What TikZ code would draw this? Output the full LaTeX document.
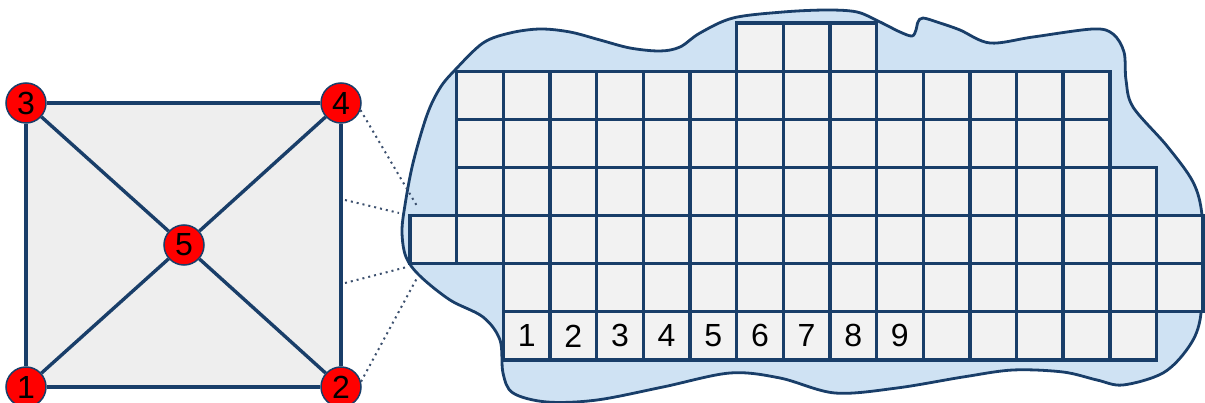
\documentclass[tikz,border=0pt]{standalone}
\usepackage{fontspec}
\setmainfont{Liberation Sans}
\usetikzlibrary{positioning,backgrounds}
\definecolor{navy}{RGB}{25,62,105}
\definecolor{sqgray}{RGB}{238,238,238}
\definecolor{cellgray}{RGB}{242,242,242}
\definecolor{blobblue}{RGB}{207,226,243}
\definecolor{dotgray}{RGB}{60,80,110}

\begin{document}
\begin{tikzpicture}[
    x=1pt, y=-1pt,
    font=\fontsize{32}{32}\selectfont,
    vert/.style={circle, draw=navy, line width=1.5pt, fill=red,
                 minimum size=40pt, inner sep=0pt},
    edge/.style={draw=navy, line width=3.4pt},
    cell/.style={rectangle, draw=navy, fill=cellgray, line width=3.4pt,
                 minimum width=46.65pt, minimum height=48.1pt,
                 inner sep=0pt, anchor=north west},
    digit/.style={inner sep=0pt},
    blob/.style={draw=navy, fill=blobblue, line width=2.8pt},
    zoomline/.style={draw=dotgray, line width=2pt,
                     dash pattern=on 2pt off 4pt},
  ]
    \useasboundingbox (0,0) rectangle (1205,403);

    %% ── Mesh: square with its five vertices ─────────────────
    \node[vert] (n1) at (26,387)  {1};
    \node[vert] (n2) at (341,387) {2};
    \node[vert] (n3) at (26,103)  {3};
    \node[vert] (n4) at (341,103) {4};
    \node[vert] (n5) at (184,245) {5};

    \begin{scope}[on background layer]
      \fill[sqgray] (n1.center) rectangle (n4.center);
      \draw[edge] (n1) -- (n2);
      \draw[edge] (n2) -- (n4);
      \draw[edge] (n4) -- (n3);
      \draw[edge] (n3) -- (n1);
      \draw[edge] (n1) -- (n5);
      \draw[edge] (n2) -- (n5);
      \draw[edge] (n3) -- (n5);
      \draw[edge] (n4) -- (n5);
    \end{scope}

    %% ── Blob round the grid ─────────────────────────────────
    \draw[blob] plot[smooth cycle, tension=0.55] coordinates {
      (402,232) (405,205) (413,163) (427,115) (440,88) (455,70)
      (483,43) (510,33) (540,29) (570,32) (600,40) (630,48) (660,51)
      (680,47) (700,33) (733,18) (783,12) (827,10) (857,12) (878,21)
      (900,32) (912,36) (916,30) (918,22) (923,18) (940,23) (960,30)
      (990,43) (1033,37) (1093,29) (1113,34) (1124,52) (1126,80)
      (1133,107) (1167,146) (1193,182) (1202,215) (1203,267)
      (1200,320) (1188,348) (1163,373) (1123,385) (1097,380)
      (1063,372) (1013,370) (963,377) (897,388) (835,393) (780,378)
      (730,373) (663,387) (597,400) (547,402) (513,393) (503,373)
      (500,340) (483,317) (450,300) (420,276) (406,257)};

    %% ── Grid cells, row by row ──────────────────────────────
    \foreach \r/\a/\b in {0/6/8, 1/0/13, 2/0/13, 3/0/14, 4/-1/15, 5/1/15, 6/1/14} {
      \foreach \c in {\a,...,\b} {
        \node[cell] (cell-\r-\c) at ({455+46.65*\c},{21.5+48.1*\r}) {};
      }
    }
    \foreach \c in {1,...,9}
      \node[digit] (lab-\c) at (cell-6-\c) {\c};

    %% ── Zoom lines ──────────────────────────────────────────
    \coordinate (e2) at (345,200);
    \coordinate (e3) at (345,283);
    \coordinate (zt1) at (417,206);
    \coordinate (zt2) at (399,213);
    \coordinate (zt3) at (407,267);
    \coordinate (zt4) at (417,278);
    \draw[zoomline] (n4.-20) -- (zt1);
    \draw[zoomline] (e2) -- (zt2);
    \draw[zoomline] (e3) -- (zt3);
    \draw[zoomline] (n2.15) -- (zt4);

  \end{tikzpicture}
\end{document}
